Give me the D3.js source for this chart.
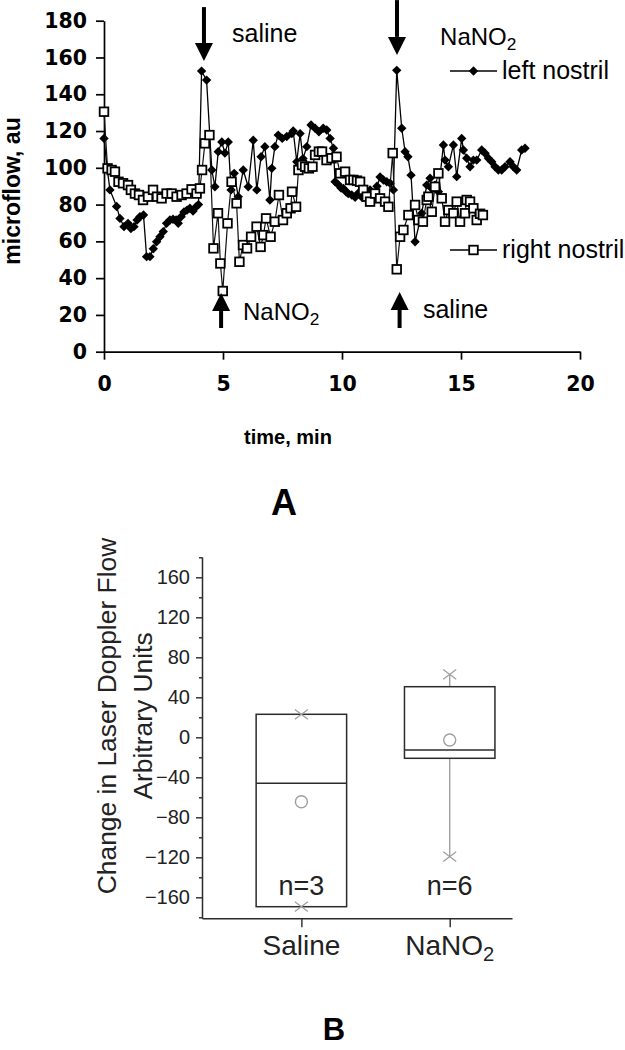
<!DOCTYPE html>
<html><head><meta charset="utf-8">
<script src="https://cdn.jsdelivr.net/npm/d3@7"></script>
<style>body{margin:0;background:#fff} svg{display:block}</style>
</head><body>
<svg id="chart" width="625" height="1050"></svg>
<script>
// ---------- Panel A data ----------
const leftTime = [0.00,0.13,0.25,0.53,0.67,0.84,1.01,1.13,1.26,1.39,1.51,1.66,1.79,1.93,2.07,2.21,2.35,2.49,2.63,2.77,
  2.90,3.03,3.12,3.24,3.36,3.49,3.61,3.74,3.87,3.97,4.10,4.31,4.53,4.66,4.80,4.95,5.08,5.22,5.34,5.47,
  5.64,5.85,6.06,6.27,6.42,6.60,6.76,6.97,7.05,7.18,7.32,7.49,7.68,7.89,7.95,8.10,8.24,8.36,8.52,8.70,
  8.87,9.03,9.21,9.36,9.50,9.64,9.71,9.83,9.96,10.06,10.17,10.26,10.41,10.55,10.67,10.84,11.01,11.18,11.34,11.47,
  11.60,11.74,11.88,12.02,12.16,12.30,12.51,12.65,12.77,12.90,13.07,13.35,13.56,13.70,13.77,13.91,14.05,14.26,14.33,14.47,
  14.68,14.82,15.03,15.10,15.24,15.38,15.52,15.66,15.87,16.01,16.15,16.29,16.43,16.57,16.71,16.85,17.06,17.20,17.34,17.55,17.69];
const leftFlow = [116,100,88,79,72.5,68,69.8,67,68,71.6,73.4,74.3,51.7,51.7,56,59.8,62.5,65.3,69.8,71.6,
  72,71.6,69.8,73.4,76,77,78,76.5,78.8,80,152.6,147.7,98.8,89.7,108.8,114,108,114,88,97,
  84.3,98.8,89.7,115,88,106,111.5,82.5,99.7,111.5,117.8,116,117,118.6,120,103.3,118.6,105,111.5,123.3,
  121.5,119.6,121.5,120.6,116,110.6,92.4,91,89,88.8,87,86,85.2,84,86,84,86,88,86,90,
  95,93.4,92.4,91.6,88,153,121.5,108.8,106,96,59.8,75.3,90.6,94.3,88.8,90.6,87,112.4,104.2,100.6,
  112.4,95.2,116,109.7,105.2,100.6,104.2,104.2,109.7,107.9,105.2,103.3,100.6,98.8,98.8,100.6,103.3,100.6,98.8,109.7,110.6];
const rightTime = [0.00,0.15,0.32,0.46,0.61,0.80,1.01,1.13,1.30,1.47,1.64,1.85,2.06,2.23,2.42,2.63,2.84,3.05,3.26,3.47,
  3.68,3.89,4.03,4.12,4.24,4.43,4.60,4.79,4.89,4.99,5.19,5.36,5.57,5.69,5.84,6.01,6.18,6.41,6.58,6.70,
  6.81,7.00,7.18,7.35,7.52,7.68,7.84,7.90,8.07,8.17,8.32,8.45,8.61,8.76,8.87,9.03,9.16,9.35,9.56,9.77,
  9.92,10.13,10.34,10.48,10.63,10.76,10.89,11.04,11.18,11.39,11.60,11.81,11.95,12.13,12.30,12.44,12.58,12.79,13.07,13.21,
  13.40,13.56,13.63,13.77,13.91,14.05,14.19,14.33,14.47,14.68,14.82,14.96,15.17,15.24,15.38,15.52,15.66,15.80,15.92];
const rightFlow = [130.5,99.7,98.8,97.9,92.4,91.6,90.6,88,86,85.2,82.5,84.3,88,84.3,83.4,86,86,84.3,85.2,86,
  88.3,86,88.8,98.8,113.3,117.8,56.2,75.3,48,33,69.8,92.4,80.7,48.9,58,56.2,62.5,68,57,63.4,
  72.5,62.5,70.7,85.2,71.6,75.3,78,87,78.8,98.8,101.5,100.6,99.7,100.6,107,108.8,108.8,104.2,105.2,106,
  97,97.9,93.4,93.4,93,92.4,88,84.3,81.6,86,83.4,81.6,78.8,108,44.8,62.5,66.2,74.3,79.8,71.6,
  70.7,82.5,84.3,76.1,89.7,97,83.4,70.7,77,75.3,81.6,70.7,75.3,82.5,81.6,78,71.6,75,74.3];
const timeTicks = [0, 5, 10, 15, 20];
const flowTicks = [0, 20, 40, 60, 80, 100, 120, 140, 160, 180];

// ---------- Panel B data ----------
const boxCategories = ["Saline", "NaNO2"];
const boxQ1 = [-169.4, -21];
const boxQ3 = [23, 50.6];
const boxMedian = [-46, -12.7];
const boxMean = [-64.4, -2.7];
const boxMin = [-169.4, -119.4];
const boxMax = [23, 63];
const boxN = ["n=3", "n=6"];
const changeTicks = [-160, -120, -80, -40, 0, 40, 80, 120, 160];
const changeMinorTicks = [-180, -140, -100, -60, -20, 20, 60, 100, 140, 180];

const ARIAL = "'Liberation Sans', Arial, Helvetica, sans-serif";
const svg = d3.select("#chart");

// ================= Panel A =================
const x = d3.scaleLinear().domain([0, 20]).range([104, 580]);
const y = d3.scaleLinear().domain([0, 180]).range([351.7, 20.7]);
const gA = svg.append("g");

const yAxis = gA.append("g").attr("transform", `translate(${x(0)},0)`)
  .call(d3.axisLeft(y).tickValues(flowTicks).tickSize(8).tickSizeOuter(0).tickPadding(9));
const xAxis = gA.append("g").attr("transform", `translate(0,${y(0)})`)
  .call(d3.axisBottom(x).tickValues(timeTicks).tickSize(8).tickSizeOuter(0).tickPadding(17));
[yAxis, xAxis].forEach(a => {
  a.select(".domain").attr("stroke", "#000").attr("stroke-width", 1.7);
  a.selectAll(".tick line").attr("stroke", "#000").attr("stroke-width", 1.7);
  a.selectAll(".tick text").attr("font-family", "'DejaVu Sans', sans-serif").attr("font-weight", "bold")
    .attr("font-size", 20.5).attr("fill", "#000");
});

const line = d3.line().x(d => x(d.t)).y(d => y(d.v));
const leftData = leftTime.map((t, i) => ({ t, v: leftFlow[i] }));
const rightData = rightTime.map((t, i) => ({ t, v: rightFlow[i] }));
const diamond = "M0,-4.7L4.7,0L0,4.7L-4.7,0Z";

gA.append("path").datum(leftData).attr("d", line)
  .attr("fill", "none").attr("stroke", "#000").attr("stroke-width", 1.3);
gA.append("g").selectAll("path").data(leftData).join("path")
  .attr("d", diamond).attr("transform", d => `translate(${x(d.t)},${y(d.v)})`).attr("fill", "#000");

gA.append("path").datum(rightData).attr("d", line)
  .attr("fill", "none").attr("stroke", "#111").attr("stroke-width", 1.2);
gA.append("g").selectAll("rect").data(rightData).join("rect")
  .attr("x", d => x(d.t) - 4.3).attr("y", d => y(d.v) - 4.3).attr("width", 8.6).attr("height", 8.6)
  .attr("fill", "#fff").attr("stroke", "#000").attr("stroke-width", 1.8);

// legend
const legL = gA.append("g");
legL.append("line").attr("x1", 450).attr("x2", 497).attr("y1", 71).attr("y2", 71).attr("stroke", "#000").attr("stroke-width", 1.4);
legL.append("path").attr("d", diamond).attr("transform", "translate(473.5,71)").attr("fill", "#000");
legL.append("text").attr("x", 502).attr("y", 79).text("left nostril")
  .attr("font-family", ARIAL).attr("font-size", 25).attr("fill", "#000");
const legR = gA.append("g");
legR.append("line").attr("x1", 450).attr("x2", 497).attr("y1", 250).attr("y2", 250).attr("stroke", "#000").attr("stroke-width", 1.4);
legR.append("rect").attr("x", 469.2).attr("y", 245.7).attr("width", 8.6).attr("height", 8.6)
  .attr("fill", "#fff").attr("stroke", "#000").attr("stroke-width", 1.8);
legR.append("text").attr("x", 502).attr("y", 258).text("right nostril")
  .attr("font-family", ARIAL).attr("font-size", 25).attr("fill", "#000");

// arrows (positioned in data coordinates)
function arrow(t, vTail, vTip) {
  const xc = x(t), yt = y(vTail), yp = y(vTip);
  const dir = yp > yt ? 1 : -1;
  const base = yp - dir * 18;
  gA.append("line").attr("x1", xc).attr("x2", xc).attr("y1", yt).attr("y2", base)
    .attr("stroke", "#000").attr("stroke-width", 4);
  gA.append("path").attr("d", `M${xc - 9},${base}L${xc + 9},${base}L${xc},${yp}Z`).attr("fill", "#000");
}
arrow(4.20, 187.4, 158.1);
arrow(12.31, 191.2, 161.4);
arrow(4.92, 12.9, 31.9);
arrow(12.42, 12.9, 32.5);

function subText(g, px, py, size, main, sub, anchor) {
  const t = g.append("text").attr("x", px).attr("y", py).attr("font-family", ARIAL)
    .attr("font-size", size).attr("fill", "#000").attr("text-anchor", anchor || "start");
  t.append("tspan").text(main);
  t.append("tspan").attr("dy", size * 0.22).attr("font-size", size * 0.72).text(sub);
  return t;
}
gA.append("text").attr("x", x(5.38)).attr("y", y(168.6)).text("saline")
  .attr("font-family", ARIAL).attr("font-size", 25).attr("fill", "#000");
subText(gA, x(14.12), y(166.8), 24, "NaNO", "2");
subText(gA, x(5.84), y(17.2), 24, "NaNO", "2");
gA.append("text").attr("x", x(13.40)).attr("y", y(18.3)).text("saline")
  .attr("font-family", ARIAL).attr("font-size", 25).attr("fill", "#000");

// axis titles
gA.append("text").attr("transform", "translate(20,191) rotate(-90)").attr("text-anchor", "middle")
  .attr("font-family", ARIAL).attr("font-weight", "bold").attr("font-size", 23).text("microflow, au");
gA.append("text").attr("x", 288).attr("y", 444).attr("text-anchor", "middle")
  .attr("font-family", ARIAL).attr("font-weight", "bold").attr("font-size", 20).text("time, min");
svg.append("text").attr("x", 284).attr("y", 515).attr("text-anchor", "middle")
  .attr("font-family", ARIAL).attr("font-weight", "bold").attr("font-size", 36).text("A");

// ================= Panel B =================
const gB = svg.append("g");
const yB = d3.scaleLinear().domain([-181, 180.6]).range([918.3, 556.7]);
const xB = d3.scaleLinear().domain([-0.67, 1.42]).range([202, 512]);
const GREY_DARK = "#2b2b2b", GREY_LIGHT = "#a0a0a0";

const yAxB = gB.append("g").attr("transform", `translate(${xB(-0.67)},0)`)
  .call(d3.axisLeft(yB).tickValues(changeTicks).tickSize(6).tickSizeOuter(0).tickPadding(6));
const yAxBm = gB.append("g").attr("transform", `translate(${xB(-0.67)},0)`)
  .call(d3.axisLeft(yB).tickValues(changeMinorTicks).tickSize(3).tickSizeOuter(0).tickFormat(""));
yAxBm.select(".domain").remove();
const xAxB = gB.append("g").attr("transform", `translate(0,${yB(-181)})`)
  .call(d3.axisBottom(xB).tickValues([0, 1]).tickSize(9).tickSizeOuter(0).tickFormat(""));
[yAxB, yAxBm, xAxB].forEach(a => {
  a.select(".domain").attr("stroke", GREY_DARK).attr("stroke-width", 1.5);
  a.selectAll(".tick line").attr("stroke", GREY_DARK).attr("stroke-width", 1.4);
  a.selectAll(".tick text").attr("font-family", ARIAL).attr("font-size", 20).attr("fill", "#222");
});

// category labels
boxCategories.forEach((c, i) => {
  if (c === "NaNO2") subText(gB, xB(i), yB(-181) + 37, 28, "NaNO", "2", "middle").attr("fill", "#222");
  else gB.append("text").attr("x", xB(i)).attr("y", yB(-181) + 37).attr("text-anchor", "middle")
    .attr("font-family", ARIAL).attr("font-size", 28).attr("fill", "#222").text(c);
});

const bw = (xB(1) - xB(0)) * 0.61;
boxCategories.forEach((c, i) => {
  const cx = xB(i);
  if (boxMin[i] < boxQ1[i]) gB.append("line").attr("x1", cx).attr("x2", cx).attr("y1", yB(boxQ1[i])).attr("y2", yB(boxMin[i]))
    .attr("stroke", GREY_LIGHT).attr("stroke-width", 1.4);
  if (boxMax[i] > boxQ3[i]) gB.append("line").attr("x1", cx).attr("x2", cx).attr("y1", yB(boxQ3[i])).attr("y2", yB(boxMax[i]))
    .attr("stroke", GREY_LIGHT).attr("stroke-width", 1.4);
  gB.append("rect").attr("x", cx - bw / 2).attr("y", yB(boxQ3[i])).attr("width", bw)
    .attr("height", yB(boxQ1[i]) - yB(boxQ3[i])).attr("fill", "none").attr("stroke", GREY_DARK).attr("stroke-width", 1.5);
  gB.append("line").attr("x1", cx - bw / 2).attr("x2", cx + bw / 2).attr("y1", yB(boxMedian[i])).attr("y2", yB(boxMedian[i]))
    .attr("stroke", GREY_DARK).attr("stroke-width", 1.5);
  gB.append("circle").attr("cx", cx).attr("cy", yB(boxMean[i])).attr("r", 6)
    .attr("fill", "none").attr("stroke", GREY_LIGHT).attr("stroke-width", 1.4);
  [boxMin[i], boxMax[i]].forEach(v => {
    const cy = yB(v), s = 6.5;
    gB.append("path").attr("d", `M${cx - s},${cy - s * 0.75}L${cx + s},${cy + s * 0.75}M${cx - s},${cy + s * 0.75}L${cx + s},${cy - s * 0.75}`)
      .attr("stroke", GREY_LIGHT).attr("stroke-width", 1.3).attr("fill", "none");
  });
  gB.append("text").attr("x", cx).attr("y", yB(-157.7)).attr("text-anchor", "middle")
    .attr("font-family", ARIAL).attr("font-size", 27).attr("fill", "#222").text(boxN[i]);
});

// y title
const yt = gB.append("text").attr("transform", "translate(0,716) rotate(-90)").attr("text-anchor", "middle")
  .attr("font-family", ARIAL).attr("font-size", 26.4).attr("fill", "#222");
yt.append("tspan").attr("x", 0).attr("y", 116).text("Change in Laser Doppler Flow");
yt.append("tspan").attr("x", 0).attr("y", 152).text("Arbitrary Units");

svg.append("text").attr("x", 334).attr("y", 1040).attr("text-anchor", "middle")
  .attr("font-family", ARIAL).attr("font-weight", "bold").attr("font-size", 31).text("B");
</script>
</body></html>
